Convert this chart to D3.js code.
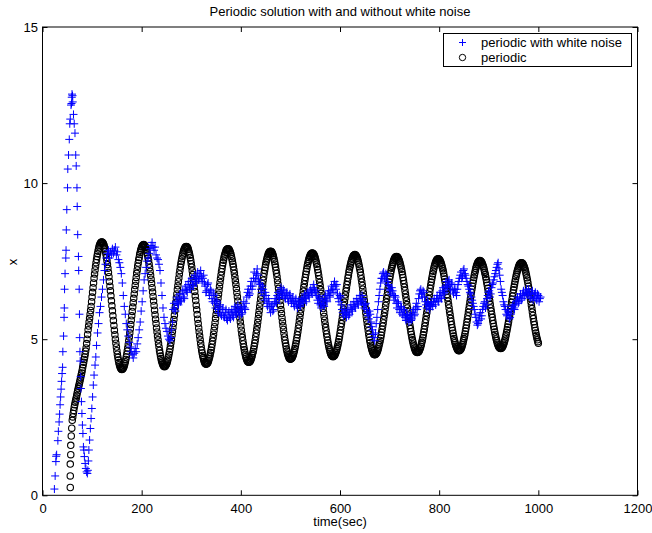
<!DOCTYPE html>
<html>
<head>
<meta charset="utf-8">
<script src="https://cdn.jsdelivr.net/npm/d3@7"></script>
<style>
body { margin: 0; background: #fff; }
text { font-family: "Liberation Sans", Arial, sans-serif; }
</style>
</head>
<body>
<script>
//ticks
var xTicks = [0, 200, 400, 600, 800, 1000, 1200];
var yTicks = [0, 5, 10, 15];

// periodic solution, start (solver steps are uneven here): [time, x]
var periodicStart = [[56,0.25],[56,0.62],[56,1.0],[57,1.3],[57,1.6],[58,1.9],[59,2.15],[60,2.4],[61,2.51],[62,2.62],
    [63,2.72],[64,2.82],[65,2.9],[66,2.98],[67,3.05],[68,3.12],[69,3.2],[70,3.28],[71,3.35],[72,3.42],
    [73,3.49],[74,3.56],[75,3.63],[76,3.7],[77,3.77],[78,3.85],[79,3.92],[80,4.0],[81,4.09],[82,4.18],
    [83,4.26],[84,4.35],[85,4.43],[86,4.52],[87,4.62],[88,4.72],[89,4.86],[90,5.0],[91,5.15],[92,5.3],
    [93,5.42],[94,5.55],[95,5.67],[96,5.8],[97,5.92],[98,6.05],[99,6.2],[100,6.35],[101,6.5],[102,6.65],
    [103,6.8],[104,6.95],[105,7.09],[106,7.22],[107,7.34],[108,7.45],[109,7.55],[110,7.65],[111,7.74],[112,7.82],
    [113,7.89],[114,7.96],[115,8.01],[116,8.05],[117,8.08],[118,8.1],[119,8.11]];

// periodic solution from t=120 on, one value every second
var periodicTime = d3.range(120, 1001, 1);
var periodicX = [
    8.11,8.10,8.08,8.05,8.01,7.95,7.89,7.81,7.72,7.62,7.51,7.39,7.27,7.14,7.00,6.85,6.70,6.55,6.39,6.23,6.07,5.91,5.75,5.60,5.44,5.29,5.14,5.00,4.87,4.75,4.63,4.52,4.42,4.33,4.25,4.19,4.13,4.09,4.06,4.04,4.03,
    4.04,4.05,4.08,4.11,4.16,4.21,4.28,4.35,4.43,4.52,4.62,4.72,4.83,4.95,5.07,5.20,5.33,5.47,5.61,5.75,5.89,6.03,6.17,6.31,6.45,6.59,6.72,6.86,6.98,7.11,7.22,7.34,7.44,7.54,7.62,7.71,7.78,7.85,7.90,7.95,7.98,8.01,8.02,8.03,
    8.02,8.01,7.98,7.94,7.89,7.84,7.77,7.69,7.60,7.51,7.40,7.29,7.17,7.05,6.92,6.79,6.65,6.51,6.37,6.22,6.08,5.93,5.78,5.64,5.50,5.36,5.23,5.10,4.98,4.86,4.75,4.64,4.55,4.46,4.38,4.31,4.26,4.21,4.17,4.14,4.13,4.12,
    4.13,4.14,4.17,4.20,4.24,4.29,4.36,4.43,4.51,4.59,4.68,4.78,4.89,5.00,5.12,5.25,5.37,5.50,5.63,5.77,5.91,6.05,6.18,6.32,6.45,6.59,6.71,6.84,6.96,7.09,7.20,7.31,7.41,7.50,7.58,7.66,7.73,7.80,7.85,7.89,7.92,7.95,7.96,7.97,
    7.96,7.95,7.92,7.88,7.82,7.76,7.69,7.61,7.52,7.42,7.31,7.19,7.07,6.94,6.81,6.67,6.53,6.38,6.24,6.09,5.94,5.79,5.64,5.50,5.36,5.23,5.10,4.98,4.86,4.75,4.65,4.56,4.48,4.41,4.35,4.29,4.25,4.22,4.21,4.20,
    4.21,4.22,4.24,4.27,4.32,4.37,4.43,4.49,4.57,4.65,4.74,4.84,4.94,5.05,5.16,5.28,5.40,5.53,5.66,5.79,5.92,6.05,6.18,6.31,6.44,6.57,6.70,6.82,6.94,7.05,7.16,7.26,7.36,7.45,7.53,7.61,7.67,7.73,7.78,7.83,7.86,7.88,7.89,7.90,
    7.89,7.88,7.85,7.82,7.77,7.72,7.65,7.58,7.50,7.41,7.32,7.22,7.11,6.99,6.87,6.75,6.62,6.49,6.36,6.22,6.08,5.94,5.81,5.68,5.55,5.42,5.29,5.17,5.06,4.95,4.85,4.75,4.66,4.58,4.51,4.44,4.39,4.34,4.31,4.28,4.27,4.26,
    4.27,4.28,4.30,4.33,4.37,4.42,4.48,4.54,4.61,4.69,4.78,4.87,4.97,5.08,5.19,5.30,5.42,5.54,5.66,5.79,5.91,6.04,6.16,6.29,6.41,6.54,6.66,6.78,6.89,7.00,7.11,7.21,7.30,7.39,7.47,7.54,7.60,7.66,7.71,7.75,7.78,7.80,7.81,7.82,
    7.81,7.80,7.77,7.74,7.69,7.63,7.56,7.49,7.40,7.31,7.21,7.11,7.00,6.88,6.76,6.63,6.50,6.36,6.23,6.09,5.95,5.82,5.69,5.56,5.43,5.31,5.19,5.07,4.97,4.87,4.78,4.69,4.62,4.55,4.50,4.45,4.41,4.38,4.37,4.36,
    4.37,4.38,4.40,4.43,4.47,4.51,4.57,4.63,4.70,4.78,4.86,4.95,5.04,5.14,5.24,5.35,5.46,5.58,5.70,5.82,5.94,6.06,6.18,6.30,6.42,6.54,6.66,6.77,6.88,6.98,7.08,7.17,7.26,7.35,7.42,7.49,7.55,7.61,7.65,7.69,7.72,7.74,7.75,7.76,
    7.75,7.74,7.72,7.69,7.65,7.60,7.54,7.47,7.40,7.32,7.23,7.14,7.04,6.93,6.82,6.71,6.59,6.47,6.35,6.22,6.10,5.98,5.85,5.73,5.61,5.49,5.38,5.27,5.17,5.07,4.97,4.88,4.80,4.73,4.66,4.60,4.55,4.51,4.48,4.46,4.45,4.44,
    4.45,4.46,4.48,4.51,4.55,4.59,4.64,4.70,4.77,4.84,4.92,5.00,5.09,5.19,5.29,5.40,5.50,5.61,5.72,5.84,5.96,6.08,6.19,6.31,6.42,6.54,6.64,6.75,6.85,6.96,7.05,7.15,7.23,7.31,7.38,7.45,7.50,7.56,7.60,7.64,7.67,7.69,7.70,7.71,
    7.70,7.69,7.66,7.63,7.59,7.54,7.47,7.40,7.32,7.24,7.15,7.05,6.94,6.83,6.72,6.60,6.48,6.36,6.24,6.11,5.98,5.85,5.73,5.61,5.49,5.38,5.27,5.16,5.06,4.97,4.89,4.81,4.74,4.68,4.63,4.58,4.55,4.52,4.51,4.50,
    4.51,4.52,4.54,4.56,4.60,4.64,4.69,4.75,4.82,4.89,4.96,5.04,5.13,5.22,5.32,5.42,5.52,5.63,5.74,5.85,5.96,6.08,6.19,6.30,6.41,6.52,6.62,6.73,6.83,6.93,7.02,7.11,7.19,7.27,7.34,7.40,7.46,7.51,7.55,7.59,7.61,7.63,7.64,7.65,
    7.64,7.63,7.61,7.58,7.54,7.50,7.44,7.38,7.31,7.24,7.16,7.07,6.98,6.88,6.78,6.67,6.56,6.45,6.34,6.23,6.11,6.00,5.88,5.77,5.66,5.55,5.44,5.34,5.24,5.15,5.06,4.98,4.91,4.84,4.78,4.72,4.68,4.64,4.61,4.59,4.58,4.57,
    4.58,4.59,4.61,4.64,4.68,4.72,4.77,4.83,4.90,4.97,5.05,5.14,5.23,5.32,5.42,5.53,5.63,5.74,5.85,5.96,6.07,6.19,6.30,6.41,6.52,6.63,6.73,6.83,6.92,7.01,7.10,7.18,7.25,7.32,7.38,7.43,7.47,7.51,7.54,7.56,7.57,7.58,
    7.57,7.56,7.54,7.51,7.47,7.43,7.38,7.32,7.26,7.19,7.11,7.02,6.93,6.84,6.74,6.64,6.54,6.43,6.33,6.22,6.11,6.00,5.89,5.78,5.67,5.57,5.47,5.37,5.28,5.19,5.10,5.02,4.95,4.89,4.83,4.78,4.74,4.70,4.67,4.65,4.64,4.63,
    4.64,4.65,4.67,4.69,4.73,4.77,4.82,4.88,4.95,5.02,5.09,5.17,5.26,5.35,5.45,5.55,5.65,5.75,5.86,5.97,6.07,6.18,6.29,6.40,6.50,6.60,6.70,6.80,6.89,6.98,7.06,7.13,7.20,7.27,7.33,7.38,7.42,7.46,7.48,7.50,7.51,7.52,
    7.51,7.50,7.48,7.46,7.42,7.38,7.33,7.28,7.21,7.14,7.07,6.99,6.91,6.82,6.73,6.63,6.53,6.42,6.32,6.22,6.11,6.00,5.90,5.80,5.70,5.60,5.50,5.41,5.32,5.23,5.15,5.08,5.01,4.95,4.89,4.84,4.80,4.76,4.74,4.72,4.71,4.70,
    4.71,4.72,4.74,4.76,4.80,4.84,4.89,4.94,5.00,5.07,5.14,5.22,5.30,5.39,5.48,5.57,5.67,5.77,5.87,5.97,6.07,6.18,6.28,6.38,6.48,6.58,6.67,6.76,6.85,6.93,7.01,7.08,7.15,7.21,7.26,7.31,7.35,7.39,7.41,7.43,7.44,7.45,
    7.44,7.43,7.41,7.38,7.34,7.30,7.25,7.19,7.12,7.05,6.97,6.89,6.80,6.70,6.61,6.51,6.41,6.30,6.20,6.09,5.98,5.87,5.76,5.66,5.56,5.47,5.37,5.28,5.20,5.12,5.05,4.98,4.92,4.87
];

// periodic with white noise, first part: [time, x]
var noiseStart = [[24,0.2],[25.5,0.62],[27,1.08],[27.5,1.25],[28.5,1.3],[31,1.75],[32,2.05],[33.5,2.35],[34.5,2.6],[35.5,2.9],
    [36.5,3.15],[37.5,3.4],[38.5,3.65],[39.5,3.9],[40.5,4.1],[41,4.6],[42.5,5.1],[43.5,5.7],[44,6.0],[44.5,6.6],
    [45.5,7.1],[47,7.6],[47.5,7.85],[48,8.5],[49,9.15],[50.5,9.85],[51,10.45],[52.5,10.9],[54,11.4],[55,11.9],
    [56,12.05],[57.5,12.5],[58.5,12.55],[59,12.75],[59.5,12.85],
    [60.5,12.8],[61,12.6],[62.5,12.2],[64,11.9],[65.5,11.6],[67,10.9],[68,10.55],[69.5,9.85],[70,9.25],[71,8.35],
    [72.5,7.65],[73,7.2],[74,6.6],[74.5,5.8],[75,5.05],[75.5,4.6],[76,4.3],[77,3.8],[77.5,3.42],[78.5,3.0],
    [79.5,2.62],[80.5,2.25],[81.5,1.98],[82.5,1.55],[83.5,1.45],[84.5,1.24],[86,1.02],[87.5,0.86],[89,0.75],[90.5,0.7],
    [91.5,0.8],
    [92.5,1.1],[93.5,1.45],[95,1.77],[96.5,2.14],[98,2.46],[99.5,2.78],[101,3.15],[102.5,3.53],[104,3.85],[106,4.17],
    [107.5,4.43],[109,4.8],[111,5.2],[113,5.5],[115,5.85],[117,6.05],[119,6.35],[121,6.6],[123,6.9],[125,7.2],
    [127,7.4],[129,7.6],[131,7.75],[133,7.85],[135,7.6],[137,7.8],[139,7.7],[141,7.9],[143,7.75],[145,7.85],
    [147,7.95],[149,7.7],[151,7.8],[153,7.55],[155,7.45],[157,7.3],[159,7.1],[161,6.8],[163,6.4],[165,6.05],
    [167,5.8],[169,5.5],[171,5.3],[173,5.1],[175,4.9],[177,4.75],[179,4.6],[181,4.5],[183,4.4],[185,4.55],
    [187,4.7],[189,4.6],[191,4.85],[193,5.05],[195,5.3],[197,5.55],[199,5.9],[201,6.2],[203,6.55],[205,6.9],
    [207,7.1],[209,7.3],[211,7.5],[213,7.6],[215,7.75],[217,7.9],[219,8.0],[221,8.1],[223,7.95],[225,7.85],
    [227,7.95],[229,7.7],[231,7.6],[233,7.55],[235,7.4],[237,7.2],[239,6.8],[241,6.4],[243,6.0],[245,5.7],
    [247,5.5],[249,5.35],[251,5.25],[253,5.1],[255,5.0],[257,4.95]];

// periodic with white noise from t=259 on, every 3 sec
var noiseTime = d3.range(259, 1004, 3);
var noiseX = [
    5.05,5.55,6.15,5.9,6.35,6.1,6.45,6.25,6.55,6.3,
    6.7,6.5,6.85,6.6,6.95,6.7,7.05,6.8,7.15,6.95,
    7.2,6.85,7.05,6.7,6.55,6.8,6.4,6.55,6.2,6.4,
    6.0,6.2,5.85,6.1,5.75,6.0,5.7,5.95,5.6,5.9,
    5.65,5.95,5.7,6.05,5.8,6.1,5.75,6.0,5.85,6.2,
    5.95,6.35,6.6,6.45,6.85,6.7,7.15,6.95,7.25,6.9,
    6.75,6.5,6.6,6.25,6.4,6.05,6.2,5.85,6.1,5.95,
    6.3,6.15,6.5,6.35,6.65,6.4,6.55,6.3,6.5,6.2,
    6.45,6.15,6.35,6.05,6.3,6.0,6.25,6.05,6.3,6.15,
    6.45,6.2,6.5,6.35,6.6,6.45,6.75,6.5,6.4,6.15,
    6.3,6.0,6.25,6.05,6.4,6.2,6.55,6.35,6.7,6.5,
    6.85,6.6,6.45,6.2,6.35,5.95,5.75,5.9,5.7,5.95,
    5.8,6.1,5.9,6.2,6.0,6.3,6.1,6.4,6.2,6.3,
    6.0,6.15,5.85,5.65,5.8,5.4,5.15,4.95,5.5,5.95,
    6.4,6.8,6.95,7.15,6.9,7.05,6.75,6.6,6.45,6.55,
    6.25,6.35,6.0,6.15,5.85,6.0,5.75,5.9,5.6,5.75,
    5.55,5.8,5.65,5.95,5.8,6.15,6.05,6.45,6.6,6.35,
    6.5,6.2,6.0,6.15,5.95,6.2,6.05,6.3,6.1,6.4,
    6.2,6.5,6.3,6.65,6.5,6.85,6.7,6.9,6.6,6.75,
    6.45,6.6,6.4,6.75,6.95,7.15,7.0,7.25,7.05,6.85,
    6.7,6.5,6.35,6.15,5.95,5.7,5.45,5.6,5.85,5.75,
    6.05,6.2,6.1,6.4,6.55,6.45,6.75,6.9,7.1,7.3,
    7.45,7.05,6.6,6.4,6.1,5.95,5.75,5.85,5.7,5.95,
    6.1,5.95,6.2,6.35,6.2,6.45,6.3,6.55,6.4,6.6,
    6.45,6.5,6.3,6.55,6.35,6.5,6.25,6.4,6.3
];

// same noisy run, the samples in between (t=260.5 on, every 3 sec)
var noiseTime2 = d3.range(260.5, 1005, 3);
var noiseX2 = [
    5.3,5.95,6.0,6.2,6.15,6.3,6.2,6.45,6.35,6.6,
    6.55,6.75,6.65,6.85,6.75,6.95,6.85,7.0,6.9,7.1,
    7.0,6.95,6.8,6.5,6.75,6.5,6.6,6.3,6.45,6.15,
    6.25,5.95,6.05,5.8,5.95,5.75,5.85,5.65,5.8,5.7,
    5.85,5.75,5.9,5.85,6.0,5.9,5.95,5.8,6.05,6.0,
    6.15,6.5,6.4,6.7,6.6,6.95,6.85,7.1,7.05,6.8,
    6.6,6.7,6.4,6.5,6.15,6.3,6.0,6.05,5.9,6.15,
    6.2,6.4,6.3,6.55,6.45,6.6,6.35,6.45,6.3,6.4,
    6.3,6.25,6.15,6.2,6.1,6.2,6.1,6.2,6.25,6.35,
    6.3,6.4,6.4,6.55,6.5,6.65,6.6,6.55,6.25,6.35,
    6.1,6.15,6.1,6.3,6.25,6.45,6.4,6.55,6.6,6.75,
    6.7,6.75,6.3,6.4,6.1,5.85,5.95,5.8,5.85,5.75,
    6.0,5.95,6.1,6.05,6.2,6.15,6.3,6.25,6.4,6.1,
    6.1,5.95,5.75,5.9,5.55,5.3,5.05,5.2,5.7,6.2,
    6.6,6.95,7.1,7.0,7.1,6.85,6.7,6.55,6.65,6.4,
    6.4,6.15,6.2,5.95,6.05,5.8,5.95,5.7,5.8,5.65,
    5.7,5.6,5.85,5.75,6.0,5.95,6.3,6.55,6.45,6.55,
    6.35,6.1,6.2,6.05,6.1,6.1,6.2,6.2,6.3,6.25,
    6.4,6.35,6.55,6.45,6.7,6.65,6.85,6.75,6.8,6.55,
    6.6,6.5,6.6,6.85,7.05,6.95,7.2,7.1,6.95,6.75,
    6.6,6.45,6.25,6.05,5.8,5.55,5.5,5.75,5.65,5.95,
    6.15,6.0,6.3,6.5,6.35,6.65,6.8,7.0,7.2,7.4,
    7.25,6.85,6.5,6.2,6.05,5.8,5.9,5.65,5.8,6.05,
    6.0,6.1,6.25,6.15,6.35,6.25,6.45,6.4,6.5,6.45,
    6.6,6.35,6.45,6.25,6.45,6.3,6.45,6.2,6.35
];

var legendLabels = ["periodic with white noise", "periodic"];

//setup
var margin = { top: 27, left: 42.5 };
var width = 595;
var height = 468.3;

var svg = d3.select("body")
    .append("svg")
    .attr("width", 652)
    .attr("height", 533)
    .style("display", "block");

svg.append("rect").attr("width", 652).attr("height", 533).attr("fill", "#fff");

var g = svg.append("g")
    .attr("transform", "translate(" + margin.left + "," + margin.top + ")");

var x = d3.scaleLinear().domain([0, 1200]).range([0, width]);
var y = d3.scaleLinear().domain([0, 15]).range([height, 0]);

// join the pieces into point lists
function zip(ts, vs) {
    var out = [];
    for (var i = 0; i < Math.min(ts.length, vs.length); i++) out.push([ts[i], vs[i]]);
    return out;
}
var periodicPoints = periodicStart.concat(zip(periodicTime, periodicX));
var noisePoints = noiseStart.concat(zip(noiseTime, noiseX), zip(noiseTime2, noiseX2));

// axes, ticks pointing inwards on all four sides
var fontSize = "13px";
function styleAxis(sel) {
    sel.select(".domain").remove();
    sel.selectAll(".tick line").attr("stroke", "#000");
    sel.selectAll(".tick text").attr("fill", "#000").style("font-size", fontSize)
        .style("font-family", "'Liberation Sans', Arial, sans-serif");
}

g.append("g")
    .attr("transform", "translate(0," + height + ")")
    .call(d3.axisBottom(x).tickValues(xTicks).tickSize(-5).tickPadding(8).tickFormat(d3.format("d")))
    .call(styleAxis);
g.append("g")
    .call(d3.axisTop(x).tickValues(xTicks).tickSize(-5).tickFormat(""))
    .call(styleAxis);
g.append("g")
    .call(d3.axisLeft(y).tickValues(yTicks).tickSize(-5).tickPadding(4.5))
    .call(styleAxis);
g.append("g")
    .attr("transform", "translate(" + width + ",0)")
    .call(d3.axisRight(y).tickValues(yTicks).tickSize(-5).tickFormat(""))
    .call(styleAxis);

// frame
g.append("rect")
    .attr("width", width)
    .attr("height", height)
    .attr("fill", "none")
    .attr("stroke", "#000")
    .attr("stroke-width", 1);

// periodic: circles
g.append("g").selectAll("circle")
    .data(periodicPoints)
    .enter().append("circle")
    .attr("cx", function (d) { return x(d[0]); })
    .attr("cy", function (d) { return y(d[1]); })
    .attr("r", 3.2)
    .attr("fill", "none")
    .attr("stroke", "#000")
    .attr("stroke-width", 1.1);

// noisy: plus signs
var plus = "M-4,0H4M0,-4V4";
g.append("g").selectAll("path")
    .data(noisePoints)
    .enter().append("path")
    .attr("transform", function (d) { return "translate(" + x(d[0]) + "," + y(d[1]) + ")"; })
    .attr("d", plus)
    .attr("stroke", "#0000ff")
    .attr("stroke-width", 1)
    .attr("fill", "none");

// legend
var leg = svg.append("g").attr("transform", "translate(443.5,33.5)");
leg.append("rect")
    .attr("width", 188)
    .attr("height", 33)
    .attr("fill", "#fff")
    .attr("stroke", "#000");
leg.append("path")
    .attr("transform", "translate(19,9)")
    .attr("d", "M-3.5,0H3.5M0,-3.5V3.5")
    .attr("stroke", "#0000ff")
    .attr("fill", "none");
leg.append("circle")
    .attr("cx", 19).attr("cy", 24).attr("r", 3.2)
    .attr("fill", "none").attr("stroke", "#000").attr("stroke-width", 1);
leg.selectAll("text.lab")
    .data(legendLabels)
    .enter().append("text")
    .attr("class", "lab")
    .attr("x", 37.5)
    .attr("y", function (d, i) { return 13.5 + i * 15; })
    .style("font-size", fontSize)
    .text(function (d) { return d; });

// titles
svg.append("text")
    .attr("x", margin.left + width / 2)
    .attr("y", 16)
    .attr("text-anchor", "middle")
    .style("font-size", fontSize)
    .text("Periodic solution with and without white noise");

svg.append("text")
    .attr("x", margin.left + width / 2)
    .attr("y", 526)
    .attr("text-anchor", "middle")
    .style("font-size", fontSize)
    .text("time(sec)");

svg.append("text")
    .attr("transform", "translate(17,262) rotate(-90)")
    .attr("text-anchor", "middle")
    .style("font-size", fontSize)
    .text("x");
</script>
</body>
</html>
